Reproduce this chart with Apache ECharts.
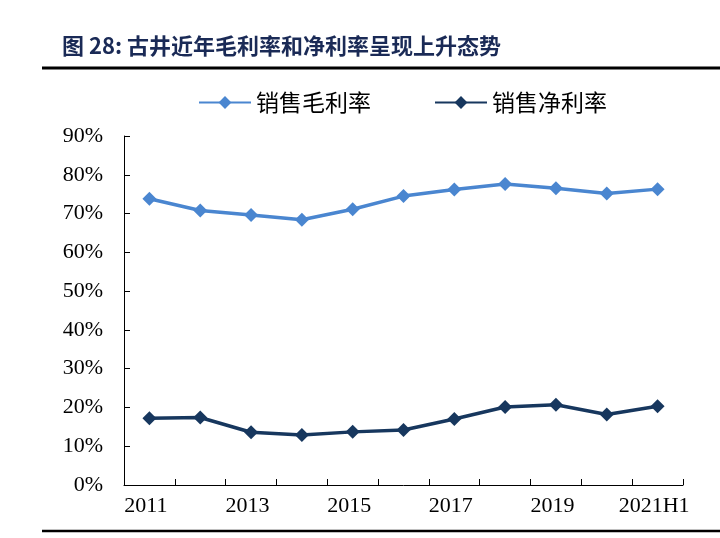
<!DOCTYPE html>
<html>
<head>
<meta charset="utf-8">
<script src="https://cdn.jsdelivr.net/npm/echarts@6/dist/echarts.min.js"></script>
<style>html,body{margin:0;padding:0;background:#fff;}#c{width:720px;height:538px;}</style>
</head>
<body>
<div id="c"></div>
<script>
const titleText = '图 28: 古井近年毛利率和净利率呈现上升态势';
const categories = ['2011','2012','2013','2014','2015','2016','2017','2018','2019','2020','2021H1'];
const grossMargin = [73.8, 70.8, 69.6, 68.4, 71.1, 74.5, 76.2, 77.6, 76.5, 75.2, 76.3];
const netMargin = [17.2, 17.4, 13.6, 12.9, 13.7, 14.2, 17.0, 20.1, 20.7, 18.2, 20.3];
const seriesNames = ['销售毛利率', '销售净利率'];
const yTicks = [0, 90, 10];

const chart = echarts.init(document.getElementById('c'), null, {renderer: 'canvas'});
const serif = '"Liberation Serif", "Times New Roman", serif';
const cjk = '"Noto Sans CJK SC", sans-serif';
chart.setOption({
  animation: false,
  backgroundColor: '#fff',
  title: {
    text: titleText,
    left: 57, top: 30,
    textStyle: {fontFamily: cjk, fontSize: 22, fontWeight: 'bold', color: '#1a2a56'}
  },
  graphic: [
    {type: 'line', shape: {x1: 42, y1: 68, x2: 720, y2: 68}, style: {stroke: '#000', lineWidth: 3}},
    {type: 'line', shape: {x1: 42, y1: 531, x2: 720, y2: 531}, style: {stroke: '#000', lineWidth: 2.5}}
  ],
  legend: {
    left: 193, top: 86,
    itemWidth: 52, itemHeight: 16, itemGap: 63,
    textStyle: {fontFamily: cjk, fontSize: 23, color: '#000'},
    data: seriesNames
  },
  grid: {left: 124, right: 37, top: 136, bottom: 53, containLabel: false},
  xAxis: {
    type: 'category',
    data: categories,
    boundaryGap: true,
    axisLine: {lineStyle: {color: '#000', width: 1}},
    axisTick: {show: true, inside: true, length: 6, interval: 0, lineStyle: {color: '#000'}},
    axisLabel: {interval: 1, fontFamily: serif, fontSize: 22, color: '#000', margin: 10, padding: [0, 7, 0, 0]},
    splitLine: {show: false}
  },
  yAxis: {
    type: 'value',
    min: yTicks[0], max: yTicks[1], interval: yTicks[2],
    axisLine: {show: true, lineStyle: {color: '#000', width: 1}},
    axisTick: {show: true, inside: true, length: 6, lineStyle: {color: '#000'}},
    axisLabel: {formatter: '{value}%', fontFamily: serif, fontSize: 22, color: '#000', margin: 21},
    splitLine: {show: false}
  },
  series: [
    {
      name: seriesNames[0], type: 'line', data: grossMargin,
      symbol: 'diamond', symbolSize: 14,
      lineStyle: {width: 3.5, color: '#4a86d0'},
      itemStyle: {color: '#4a86d0'}
    },
    {
      name: seriesNames[1], type: 'line', data: netMargin,
      symbol: 'diamond', symbolSize: 14,
      lineStyle: {width: 3.5, color: '#17375e'},
      itemStyle: {color: '#17375e'}
    }
  ]
});
</script>
</body>
</html>
